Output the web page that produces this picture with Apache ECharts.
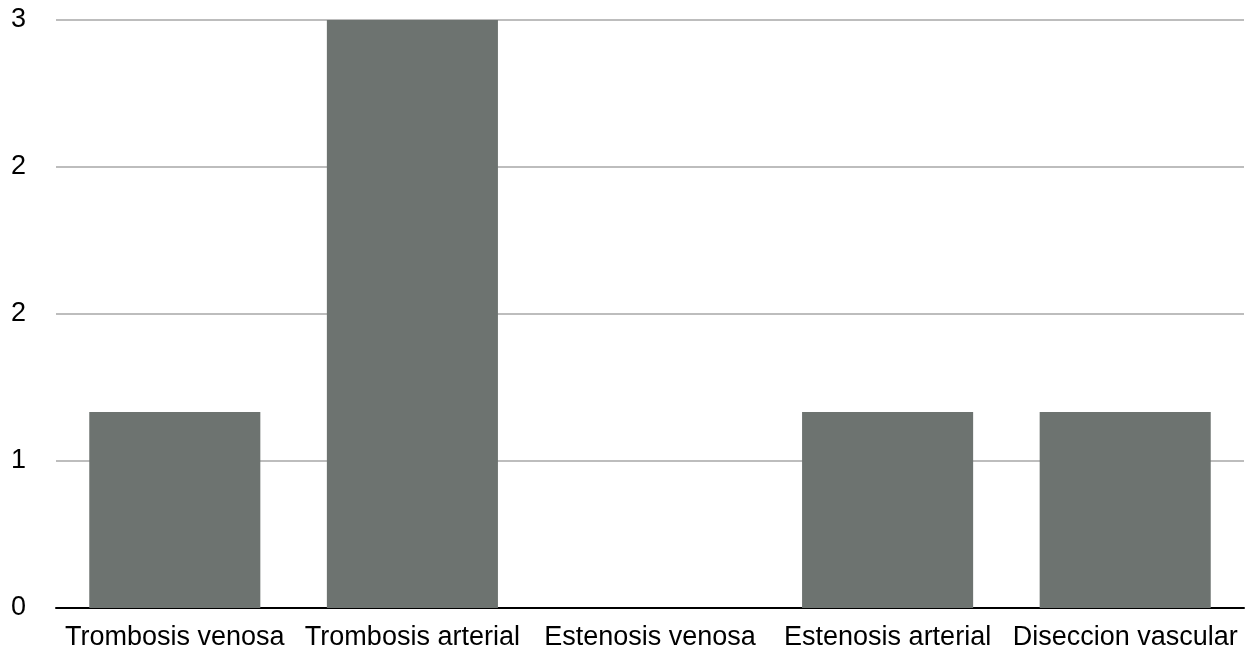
<!DOCTYPE html>
<html>
<head>
<meta charset="utf-8">
<script src="https://cdn.jsdelivr.net/npm/echarts@6/dist/echarts.min.js"></script>
<style>
  html, body { margin: 0; padding: 0; background: #fff; }
  #chart { width: 1252px; height: 654px; }
</style>
</head>
<body>
<div id="chart"></div>
<script>
// Vascular complications by type
const categories = ['Trombosis venosa', 'Trombosis arterial', 'Estenosis venosa', 'Estenosis arterial', 'Diseccion vascular'];
const counts = [1, 3, 0, 1, 1];

const font = '"Liberation Sans", Helvetica, Arial, sans-serif';
const chart = echarts.init(document.getElementById('chart'), null, { renderer: 'canvas' });

chart.setOption({
  animation: false,
  backgroundColor: '#ffffff',
  grid: { left: 56, right: 8, top: 20, bottom: 46, containLabel: false },
  xAxis: {
    type: 'category',
    data: categories,
    axisLine: { show: true, lineStyle: { color: '#000000', width: 2 } },
    axisTick: { show: false },
    axisLabel: { color: '#000000', fontSize: 27, fontFamily: font, margin: 16, interval: 0 }
  },
  yAxis: {
    type: 'value',
    min: 0,
    max: 3,
    interval: 0.75,
    axisLine: { show: false },
    axisTick: { show: false },
    splitLine: { show: true, lineStyle: { color: '#bdbdbd', width: 2 } },
    axisLabel: {
      color: '#000000', fontSize: 27, fontFamily: font,
      align: 'left', margin: 45,
      formatter: v => String(Math.round(v))
    }
  },
  series: [{
    type: 'bar',
    data: counts,
    barWidth: '72%',
    itemStyle: { color: '#6d7370' }
  }]
});
</script>
</body>
</html>
